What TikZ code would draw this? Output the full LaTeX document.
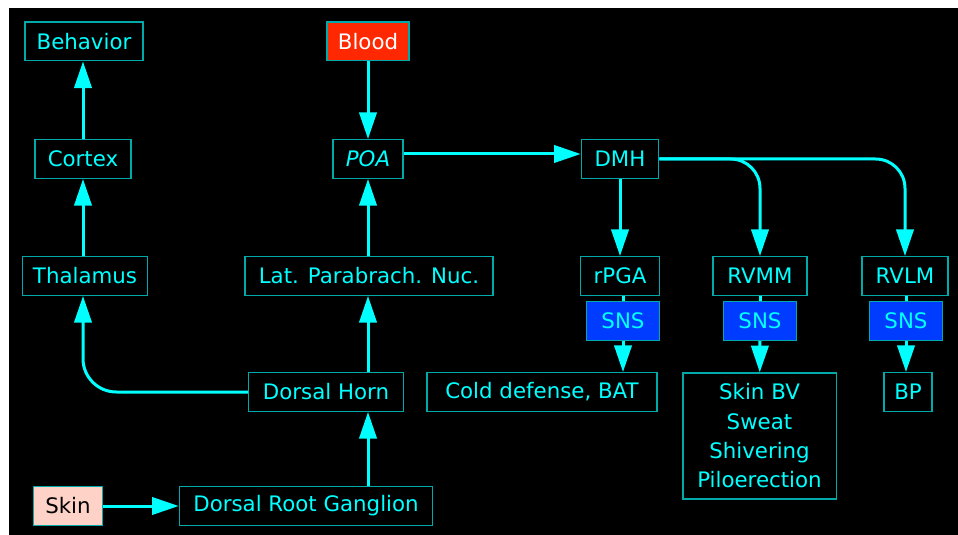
\documentclass[tikz,border=0pt]{standalone}
\usepackage{fontspec}
\usepackage{xcolor}
\usepackage{tikz}
\usetikzlibrary{arrows.meta}
\newfontfamily\comic{DejaVu Sans}

\definecolor{aqua}{RGB}{0,255,255}
\definecolor{boxline}{RGB}{0,170,170}
\definecolor{bloodred}{RGB}{255,40,0}
\definecolor{skinpink}{RGB}{255,210,200}
\definecolor{snsblue}{RGB}{0,60,255}

\begin{document}
\begin{tikzpicture}[x=0.75pt,y=0.75pt,yscale=-1,xscale=1,
  box/.style={draw=boxline, line width=1pt, text=aqua, minimum height=29pt, inner sep=2pt, font=\comic\fontsize{16}{22}\selectfont},
  link/.style={draw=aqua, line width=2.25pt},
  feed/.style={link, -{Triangle[length=20pt,width=13pt]}}]
%Page and backdrop
\fill[white] (0,0) rectangle (958,535);
\fill[black] (9,8) rectangle (958,535);
\useasboundingbox (0,0) rectangle (958,535);
% Sensory side
\node[box, minimum width=88.5pt] (behavior) at (84,41.5) {Behavior};
\node[box, minimum width=72pt] (cortex) at (83,159) {Cortex};
\node[box, minimum width=94pt] (thalamus) at (85,276) {Thalamus};
\node[box, minimum width=116pt] (horn) at (326,392) {Dorsal Horn};
\node[box, minimum width=190pt] (drg) at (306,506) {Dorsal Root Ganglion};
\node[box, minimum width=52pt, fill=skinpink, text=black] (skin) at (68,506) {Skin};
% Central relay
\node[box, minimum width=61.5pt, fill=bloodred, text=white] (blood) at (368,41.5) {Blood};
\node[box, minimum width=52.5pt, font=\comic\itshape\fontsize{16}{22}\selectfont] (poa) at (368,159) {POA};
\node[box, minimum width=186pt] (lpb) at (369,276) {Lat. Parabrach. Nuc.};
\node[box, minimum width=58pt] (dmh) at (620,159) {DMH};
% Effector pathways
\node[box, minimum width=59pt] (rpga) at (620,276) {rPGA};
\node[box, minimum width=70.5pt] (rvmm) at (760,276) {RVMM};
\node[box, minimum width=64.5pt] (rvlm) at (905,276) {RVLM};
\node[box, minimum width=55pt, fill=snsblue] (sns1) at (623,321) {SNS};
\node[box, minimum width=55pt, fill=snsblue] (sns2) at (760,321) {SNS};
\node[box, minimum width=55pt, fill=snsblue] (sns3) at (906,321) {SNS};
\node[box, minimum width=172.5pt] (cold) at (542,392) {Cold defense, BAT};
\node[box, minimum width=115pt, minimum height=94.5pt, align=center] (skinbv) at (759.5,436) {Skin BV\\Sweat\\Shivering\\Piloerection};
\node[box, minimum width=36pt] (bp) at (908,392) {BP};
% Connectors
\draw[feed] (cortex.north -| cortex) -- (behavior.south -| cortex);
\draw[feed] (thalamus.north -| cortex) -- (cortex.south);
\draw[feed, rounded corners=25pt] (horn.west) -| (thalamus.south -| cortex);
\draw[feed] (skin) -- (drg);
\draw[feed] (drg.north -| poa) -- (horn.south -| poa);
\draw[feed] (horn.north -| poa) -- (lpb.south -| poa);
\draw[feed] (lpb.north -| poa) -- (poa);
\draw[feed] (blood) -- (poa);
\draw[feed] ([yshift=-3.75pt]poa.east) -- ([yshift=-3.75pt]dmh.west);
\draw[feed] (dmh) -- (rpga);
\draw[feed, rounded corners=22pt] (dmh.east) -| (rvmm.north);
\draw[feed, rounded corners=22pt] (dmh.east) -| (rvlm.north);
\draw[link] (rpga.south -| sns1) -- (sns1.north);
\draw[link] (rvmm) -- (sns2);
\draw[link] (rvlm.south -| sns3) -- (sns3.north);
\draw[feed] (sns1) -- (cold.north -| sns1);
\draw[feed] (sns2) -- (skinbv);
\draw[feed] (sns3) -- (bp.north -| sns3);
\end{tikzpicture}
\end{document}
